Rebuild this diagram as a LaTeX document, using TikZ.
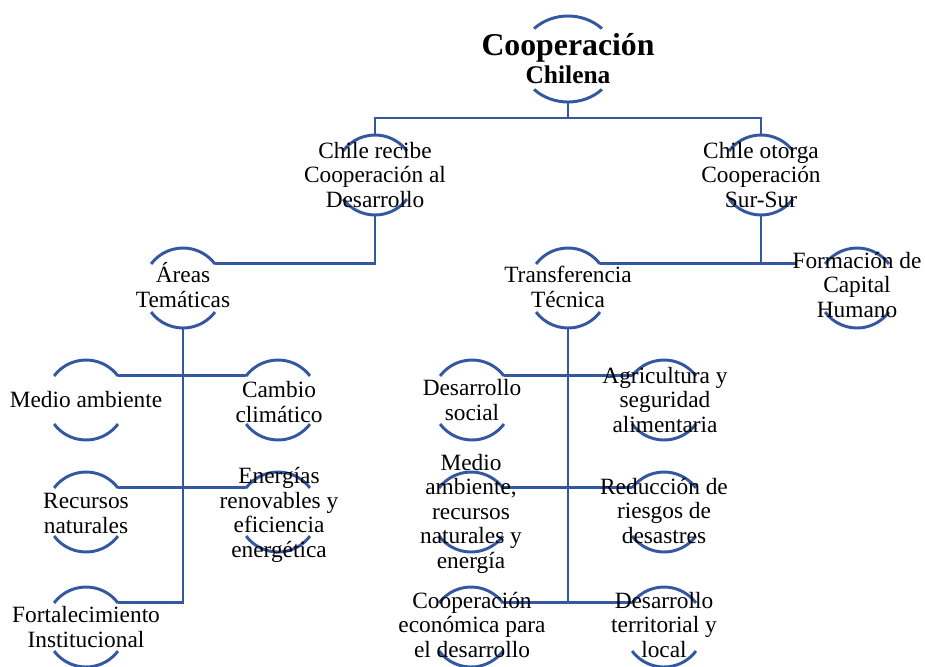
\documentclass[tikz,border=0pt]{standalone}
\usepackage{fontspec}
\setmainfont{Liberation Serif}
\usetikzlibrary{calc,shapes.geometric}

\definecolor{linkblue}{RGB}{52,88,160}

\tikzset{
    link/.style={linkblue, line width=2.1pt},
    ring/.style={circle, minimum size=2cm, inner sep=0pt, outer sep=0pt},
    hub/.style={ellipse, minimum width=2.4cm, minimum height=2.15cm, inner sep=0pt, outer sep=0pt},
    txt/.style={align=center, anchor=base, inner sep=0pt, font=\fontsize{16.6}{17.4}\selectfont},
}

\begin{document}
\begin{tikzpicture}
    \useasboundingbox (0,0) rectangle (23.125,-16.65);
    % The rings; only their top and bottom arcs get drawn.
        \node[hub] (root) at (14.2,-1.475) {};
        \node[ring] (recibe) at (9.375,-4.375) {};
        \node[ring] (otorga) at (19.025,-4.375) {};
        \node[ring] (areas) at (4.575,-7.2) {};
        \node[ring] (transf) at (14.2,-7.2) {};
        \node[ring] (formacion) at (21.425,-7.2) {};
        \node[ring] (medio) at (2.15,-10) {};
        \node[ring] (cambio) at (6.95,-10) {};
        \node[ring] (recursos) at (2.15,-12.8) {};
        \node[ring] (energias) at (6.95,-12.8) {};
        \node[ring] (fortal) at (2.15,-15.675) {};
        \node[ring] (social) at (11.8,-10) {};
        \node[ring] (agri) at (16.6,-10) {};
        \node[ring] (medioB) at (11.775,-12.8) {};
        \node[ring] (reduccion) at (16.6,-12.8) {};
        \node[ring] (coopeco) at (11.775,-15.675) {};
        \node[ring] (territorio) at (16.6,-15.675) {};
    % Arcs.
        \draw[link] ($(root)+(135:1.2 and 1.075)$) arc[start angle=135, end angle=45, x radius=1.2, y radius=1.075];
        \draw[link] ($(root)+(225:1.2 and 1.075)$) arc[start angle=225, end angle=315, x radius=1.2, y radius=1.075];
        \foreach \n in {recibe,otorga,areas,transf,formacion,medio,cambio,recursos,energias,fortal,social,agri,medioB,reduccion,coopeco,territorio}{
            \draw[link] (\n.143) arc[start angle=143, end angle=37, radius=1];
            \draw[link] (\n.217) arc[start angle=217, end angle=323, radius=1];
        }
    % Connectors.
        \coordinate (split) at ($(root.south)+(0,-0.4)$);
        \coordinate (formacion-in) at ($(formacion.143)+(-0.7,0)$);
        \draw[link] (root.south) -- (split);
        \draw[link] (recibe.north) |- (split) -| (otorga.north);
        \draw[link] (areas.37) -| (recibe.south);
        \draw[link] (transf.37) -- (formacion-in);
        \draw[link] (otorga.south) -- (otorga.south |- formacion.143);
        \draw[link] (areas.south) |- (fortal.37);
        \draw[link] (medio.37) -- (cambio.143);
        \draw[link] (recursos.37) -- (energias.143);
        \draw[link] (transf.south) |- (coopeco.37);
        \draw[link] (social.37) -- (agri.143);
        \draw[link] (medioB.37) -- (reduccion.143);
        \draw[link] (coopeco.37) -- (territorio.143);
    % Below nodes are the labels (placed by the baseline of their last line).
        \node[txt, font=\fontsize{18.1}{19.9}\selectfont\bfseries] (root-t) at (14.2,-2.075) {{\fontsize{22.6}{24}\selectfont Cooperación}\\Chilena};
        \node[txt] (recibe-t) at (9.375,-5.175) {Chile recibe\\Cooperación al\\Desarrollo};
        \node[txt] (otorga-t) at (19.025,-5.175) {Chile otorga\\Cooperación\\Sur-Sur};
        \node[txt] (areas-t) at (4.575,-7.675) {Áreas\\Temáticas};
        \node[txt] (transf-t) at (14.2,-7.675) {Transferencia\\Técnica};
        \node[txt] (formacion-t) at (21.425,-7.925) {Formación de\\Capital\\Humano};
        \node[txt] (medio-t) at (2.15,-10.175) {Medio ambiente};
        \node[txt] (cambio-t) at (6.975,-10.55) {Cambio\\climático};
        \node[txt] (recursos-t) at (2.15,-13.325) {Recursos\\naturales};
        \node[txt] (energias-t) at (6.975,-13.925) {Energías\\renovables y\\eficiencia\\energética};
        \node[txt] (fortal-t) at (2.15,-16.175) {Fortalecimiento\\Institucional};
        \node[txt] (social-t) at (11.8,-10.5) {Desarrollo\\social};
        \node[txt] (agri-t) at (16.625,-10.8) {Agricultura y\\seguridad\\alimentaria};
        \node[txt] (medioB-t) at (11.775,-14.2) {Medio\\ambiente,\\recursos\\naturales y\\energía};
        \node[txt] (reduccion-t) at (16.6,-13.575) {Reducción de\\riesgos de\\desastres};
        \node[txt] (coopeco-t) at (11.8,-16.425) {Cooperación\\económica para\\el desarrollo};
        \node[txt] (territorio-t) at (16.6,-16.425) {Desarrollo\\territorial y\\local};
\end{tikzpicture}
\end{document}
